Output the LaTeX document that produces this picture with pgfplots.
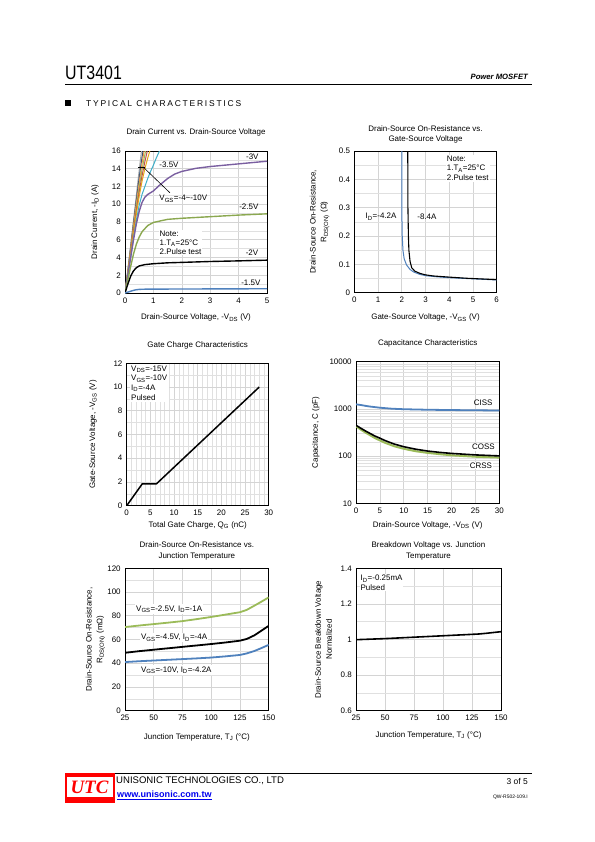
\documentclass[border=0pt]{standalone}
\usepackage{fontspec}
\setmainfont{Liberation Sans}
\newfontfamily\serifb{Liberation Serif}
\newfontfamily\spaced[LetterSpace=21]{Liberation Sans}
\usepackage{pgfplots}
\pgfplotsset{compat=1.18}
\definecolor{xblue}{HTML}{4F81BD}
\definecolor{xgreen}{HTML}{9BBB59}
\definecolor{xpurple}{HTML}{7A5FA0}
\definecolor{xorange}{HTML}{F79646}
\definecolor{xred}{HTML}{C0504D}
\definecolor{xgray}{HTML}{A5A5A5}
\definecolor{xgold}{HTML}{E6A817}
\definecolor{xcyan}{HTML}{3FAFC8}
\definecolor{xnavy}{HTML}{2C4D75}
\definecolor{linkblue}{HTML}{0000EE}
\newcommand{\sml}{\fontsize{8}{9}\selectfont}
\pgfplotsset{
  ds/.style={
    scale only axis, anchor=south west,
    axis line style={black,line width=0.9pt},
    major tick length=0pt, minor tick length=0pt,
    grid=both,
    major grid style={draw=black!17,line width=0.6pt},
    minor grid style={draw=black!12,line width=0.5pt},
    tick label style={font=\fontsize{8}{9}\selectfont},
    label style={font=\fontsize{8}{10.8}\selectfont, align=center},
    title style={font=\fontsize{8}{10.7}\selectfont, align=center, anchor=center},
    /pgf/number format/assume math mode=true,
    xticklabel style={yshift=-1pt},
    yticklabel style={xshift=-0.8pt},
    every axis plot/.append style={line join=round, no markers},
  }
}
\begin{document}
\begin{tikzpicture}
\path[use as bounding box, fill=white] (0,0) rectangle (595bp,-842bp);
% ---------- header ----------
\node[anchor=base west, inner sep=0pt, font=\fontsize{19.5}{20}\selectfont] at (65bp,-79bp) {\scalebox{0.82}[1]{UT3401}};
\node[anchor=base east, inner sep=0pt, font=\fontsize{7.7}{9}\selectfont\bfseries\itshape] at (528bp,-79bp) {Power MOSFET};
\draw[line width=0.8bp] (65bp,-84.5bp) -- (532bp,-84.5bp);
\fill (65bp,-100bp) rectangle (70.5bp,-105.5bp);
\node[anchor=base west, inner sep=0pt, font=\spaced\fontsize{8.5}{9}\selectfont] at (86bp,-106bp) {TYPICAL CHARACTERISTICS};
% ---------- footer ----------
\draw[line width=1.5bp] (65bp,-773.5bp) -- (532bp,-773.5bp);
\fill[red] (65bp,-773bp) rectangle (115bp,-803bp);
\fill[white] (67bp,-777bp) rectangle (113bp,-797bp);
\node[red, inner sep=0pt, font=\serifb\bfseries\itshape\fontsize{19}{20}\selectfont] at (89.5bp,-787.5bp) {UTC};
\node[anchor=west, inner sep=0pt, font=\fontsize{9.6}{10}\selectfont] at (116bp,-780.5bp) {UNISONIC TECHNOLOGIES CO., LTD};
\node[anchor=west, inner sep=0pt, text=linkblue, font=\fontsize{9.1}{10}\selectfont\bfseries] at (117bp,-795bp) {\underline{www.unisonic.com.tw}};
\node[anchor=east, inner sep=0pt, font=\fontsize{8.5}{9}\selectfont] at (528bp,-781bp) {3 of 5};
\node[anchor=east, inner sep=0pt, font=\fontsize{5}{6}\selectfont] at (528bp,-797bp) {QW-R502-109.I};

% ---------- Chart 1 ----------
\begin{axis}[ds, at={(125bp,-293bp)}, width=142bp, height=142bp,
  xmin=0, xmax=5, ymin=0, ymax=16,
  xtick={0,1,2,3,4,5}, ytick={0,2,...,16}, minor y tick num=1,
  title={Drain Current vs. Drain-Source Voltage},
  title style={at={(0.5,1.092)}},
  xlabel={Drain-Source Voltage, -V\textsubscript{DS} (V)},
  xlabel style={at={(axis description cs:0.5,-0.174)}, anchor=center},
  ylabel={Drain Current, -I\textsubscript{D} (A)},
  ylabel style={at={(axis description cs:-0.21,0.5)}, anchor=center},
]
\addplot[xgray, line width=1pt] coordinates {(0,0) (0.1,2.6) (0.2,5.4) (0.3,8.2) (0.4,11) (0.47,13) (0.55,15.2) (0.6,16.5)};
\addplot[xnavy, line width=1pt] coordinates {(0,0) (0.1,2.5) (0.2,5.2) (0.3,7.9) (0.4,10.5) (0.5,13) (0.6,15.3) (0.66,16.5)};
\addplot[xorange, line width=1pt] coordinates {(0,0) (0.1,2.4) (0.2,5) (0.3,7.6) (0.4,10.1) (0.5,12.4) (0.6,14.6) (0.7,16.5)};
\addplot[xgreen, line width=1pt] coordinates {(0,0) (0.1,2.3) (0.2,4.8) (0.3,7.3) (0.4,9.7) (0.5,11.9) (0.6,13.9) (0.7,15.6) (0.76,16.5)};
\addplot[xred, line width=1pt] coordinates {(0,0) (0.1,2.2) (0.2,4.6) (0.3,7) (0.4,9.3) (0.5,11.4) (0.6,13.2) (0.7,14.8) (0.82,16.5)};
\addplot[xgold, line width=1pt] coordinates {(0,0) (0.1,2.1) (0.2,4.4) (0.3,6.7) (0.4,8.9) (0.5,10.9) (0.6,12.6) (0.7,14) (0.8,15.2) (0.92,16.5)};
\addplot[xcyan, line width=1pt] coordinates {(0,0) (0.1,2) (0.2,4.1) (0.3,6.2) (0.4,8.2) (0.5,9.9) (0.6,11.1) (0.7,12) (0.8,12.9) (0.9,13.7) (1,14.4) (1.1,15.2) (1.2,15.9) (1.3,16.5)};
\addplot[xpurple, line width=1.4pt] coordinates {(0,0) (0.1,2) (0.2,4) (0.3,6) (0.4,7.8) (0.5,9.2) (0.6,10.2) (0.7,10.8) (0.8,11.1) (1,11.5) (1.2,12.1) (1.5,12.9) (1.75,13.4) (2,13.7) (2.5,14.05) (3,14.25) (4,14.55) (5,14.85)};
\addplot[xgreen!90!black, line width=1.4pt] coordinates {(0,0) (0.1,1.5) (0.2,3) (0.3,4.4) (0.4,5.5) (0.5,6.3) (0.6,6.9) (0.8,7.6) (1,7.95) (1.5,8.3) (2,8.42) (3,8.6) (4,8.78) (5,8.92)};
\addplot[black, line width=1.4pt] coordinates {(0,0) (0.1,1.0) (0.2,1.9) (0.3,2.5) (0.4,2.85) (0.5,3.05) (0.7,3.2) (1,3.3) (1.5,3.4) (2,3.45) (3,3.55) (4,3.62) (5,3.7)};
\addplot[xblue, line width=1.4pt] coordinates {(0,0) (0.1,0.1) (0.2,0.2) (0.3,0.3) (0.4,0.37) (0.5,0.41) (0.7,0.43) (1,0.44) (2,0.45) (3,0.46) (4,0.47) (5,0.48)};
\node[anchor=west, inner sep=0.5pt, font=\sml] at (axis cs:1.19,14.4) {-3.5V};
\node[anchor=west, inner sep=0.5pt, font=\sml] at (axis cs:4.24,15.3) {-3V};
\node[anchor=west, inner sep=0.5pt, font=\sml] at (axis cs:4.0,9.7) {-2.5V};
\node[anchor=west, inner sep=0.5pt, font=\sml] at (axis cs:4.23,4.5) {-2V};
\node[anchor=west, inner sep=0.5pt, font=\sml] at (axis cs:4.07,1.2) {-1.5V};
\node[anchor=west, inner sep=0.5pt, font=\sml] at (axis cs:1.19,10.6) {V\textsubscript{GS}=-4\textasciitilde-10V};
\draw[black, line width=0.6pt] (axis cs:0.67,14.1) -- (axis cs:1.58,11.3);
\draw[black, line width=1.2pt] (axis cs:0.46,14.1) -- (axis cs:0.7,14.1);
\node[anchor=west, align=left, fill=white, inner sep=1pt, font=\fontsize{8}{9}\selectfont] at (axis cs:1.18,5.7) {Note:\\1.T\textsubscript{A}=25°C\\2.Pulse test};
\end{axis}

% ---------- Chart 2 ----------
\begin{axis}[ds, at={(354.3bp,-292.7bp)}, width=142.4bp, height=141.7bp,
  xmin=0, xmax=6, ymin=0, ymax=0.5,
  xtick={0,...,6}, ytick={0,0.1,0.2,0.3,0.4,0.5}, minor y tick num=1,
  title={Drain-Source On-Resistance vs.\\Gate-Source Voltage},
  title style={at={(0.5,1.0755)}},
  xlabel={Gate-Source Voltage, -V\textsubscript{GS} (V)},
  xlabel style={at={(axis description cs:0.5,-0.176)}, anchor=center},
  ylabel={Drain-Source On-Resistance,\\R\textsubscript{DS(ON)} (Ω)},
  ylabel style={at={(axis description cs:-0.244,0.5)}, anchor=center},
  yticklabel style={/pgf/number format/fixed},
]
\addplot[xblue, line width=1pt] coordinates {(2.0,0.56) (2.0,0.3) (2.02,0.2) (2.05,0.15) (2.1,0.12) (2.2,0.098) (2.35,0.082) (2.5,0.073) (2.75,0.065) (3,0.06) (3.5,0.056) (4,0.053) (5,0.049) (6,0.045)};
\addplot[black, line width=1.1pt] coordinates {(2.25,0.56) (2.26,0.3) (2.28,0.2) (2.3,0.15) (2.35,0.11) (2.42,0.088) (2.55,0.076) (2.77,0.068) (3,0.063) (3.33,0.059) (4,0.055) (4.73,0.051) (6,0.046)};
\node[anchor=west, inner sep=0.5pt, font=\sml] at (axis cs:0.45,0.268) {I\textsubscript{D}=-4.2A};
\node[anchor=west, inner sep=0.5pt, font=\sml] at (axis cs:2.63,0.268) {-8.4A};
\node[anchor=west, align=left, fill=white, inner sep=1pt, font=\fontsize{8}{10}\selectfont] at (axis cs:3.85,0.439) {Note:\\1.T\textsubscript{A}=25°C\\2.Pulse test};
\end{axis}

% ---------- Chart 3 ----------
\begin{axis}[ds, at={(126.7bp,-505.7bp)}, width=142bp, height=142.4bp,
  xmin=0, xmax=30, ymin=0, ymax=12,
  xtick={0,5,...,30}, ytick={0,2,...,12}, minor x tick num=4, minor y tick num=1,
  title={Gate Charge Characteristics},
  title style={at={(0.5,1.086)}},
  xlabel={Total Gate Charge, Q\textsubscript{G} (nC)},
  xlabel style={at={(axis description cs:0.5,-0.136)}, anchor=center},
  ylabel={Gate-Source Voltage, -V\textsubscript{GS} (V)},
  ylabel style={at={(axis description cs:-0.237,0.5)}, anchor=center},
]
\addplot[black, line width=1.5pt] coordinates {(0,0) (3.3,1.85) (6.3,1.85) (28,10)};
\node[anchor=north west, align=left, fill=white, inner sep=1.5pt, font=\fontsize{8}{9.8}\selectfont] at (axis cs:0.6,11.95) {V\textsubscript{DS}=-15V\\V\textsubscript{GS}=-10V\\I\textsubscript{D}=-4A\\Pulsed};
\end{axis}

% ---------- Chart 4 ----------
\begin{axis}[ds, at={(356bp,-503.3bp)}, width=143.3bp, height=141.6bp,
  ymode=log, xmin=0, xmax=30, ymin=10, ymax=10000,
  xtick={0,5,...,30}, ytick={10,100,1000,10000}, yticklabels={10,100,1000,10000},
  minor ytick={20,30,40,50,60,70,80,90,200,300,400,500,600,700,800,900,2000,3000,4000,5000,6000,7000,8000,9000},
  title={Capacitance Characteristics},
  title style={at={(0.5,1.09)}},
  xlabel={Drain-Source Voltage, -V\textsubscript{DS} (V)},
  xlabel style={at={(axis description cs:0.5,-0.153)}, anchor=center},
  ylabel={Capacitance, C (pF)},
  ylabel style={at={(axis description cs:-0.28,0.5)}, anchor=center},
]
\addplot[xblue, line width=1.8pt] coordinates {(0,1250) (1,1210) (2,1160) (3,1120) (5,1060) (7.5,1010) (10,985) (15,960) (20,945) (25,935) (30,925)};
\addplot[xgreen, line width=2pt] coordinates {(0,430) (1,365) (2,315) (3,275) (4,240) (5,215) (6,193) (8,162) (10,143) (12.5,127) (15,117) (17.5,110) (20,104) (25,97) (30,93)};
\addplot[black, line width=1.6pt] coordinates {(0,450) (1,390) (2,340) (3,300) (4,265) (5,240) (6,215) (8,180) (10,158) (12.5,140) (15,128) (17.5,120) (20,114) (25,106) (30,101)};
\node[anchor=east, inner sep=0.5pt, font=\sml] at (axis cs:28.7,1350) {CISS};
\node[anchor=east, fill=white, inner sep=1pt, font=\sml] at (axis cs:29.3,158) {COSS};
\node[anchor=east, fill=white, inner sep=1pt, font=\sml] at (axis cs:28.7,63) {CRSS};
\end{axis}

% ---------- Chart 5 ----------
\begin{axis}[ds, at={(125bp,-710.7bp)}, width=143.7bp, height=142.4bp,
  xmin=25, xmax=150, ymin=0, ymax=120,
  xtick={25,50,...,150}, ytick={0,20,...,120}, minor y tick num=1,
  title={Drain-Source On-Resistance vs.\\Junction Temperature},
  title style={at={(0.5,1.079)}},
  xlabel={Junction Temperature, T\textsubscript{J} (°C)},
  xlabel style={at={(axis description cs:0.5,-0.185)}, anchor=center},
  ylabel={Drain-Source On-Resistance,\\R\textsubscript{DS(ON)} (mΩ)},
  ylabel style={at={(axis description cs:-0.205,0.5)}, anchor=center},
]
\addplot[xgreen, line width=1.8pt] coordinates {(25,70.5) (37.5,71.8) (50,73) (62.5,74.2) (75,75.5) (87.5,77.2) (100,79) (112.5,81) (125,83) (131,85) (137.5,88.5) (143,91.5) (150,95.5)};
\addplot[black, line width=1.8pt] coordinates {(25,48.8) (37.5,50.2) (50,51.4) (62.5,52.6) (75,53.8) (87.5,55) (100,56.2) (112.5,57.5) (125,59) (131,60.5) (137.5,63.5) (143,67) (150,71.5)};
\addplot[xblue, line width=1.8pt] coordinates {(25,41) (37.5,41.7) (50,42.3) (62.5,42.9) (75,43.5) (87.5,44.1) (100,44.8) (112.5,45.8) (125,47) (131,48.3) (137.5,50.3) (143,52.5) (150,55.5)};
\node[anchor=west, fill=white, inner sep=1pt, font=\sml] at (axis cs:33.7,85.7) {V\textsubscript{GS}=-2.5V, I\textsubscript{D}=-1A};
\node[anchor=west, fill=white, inner sep=1pt, font=\sml] at (axis cs:38,61.5) {V\textsubscript{GS}=-4.5V, I\textsubscript{D}=-4A};
\node[anchor=west, fill=white, inner sep=1pt, font=\sml] at (axis cs:38,34.3) {V\textsubscript{GS}=-10V, I\textsubscript{D}=-4.2A};
\end{axis}

% ---------- Chart 6 ----------
\begin{axis}[ds, at={(356bp,-710.7bp)}, width=145bp, height=142.4bp,
  xmin=25, xmax=150, ymin=0.6, ymax=1.4,
  xtick={25,50,...,150}, ytick={0.6,0.8,1,1.2,1.4}, minor y tick num=1,
  title={Breakdown Voltage vs. Junction\\Temperature},
  title style={at={(0.5,1.079)}},
  xlabel={Junction Temperature, T\textsubscript{J} (°C)},
  xlabel style={at={(axis description cs:0.5,-0.171)}, anchor=center},
  ylabel={Drain-Source Breakdown Voltage\\Normalized},
  ylabel style={at={(axis description cs:-0.224,0.5)}, anchor=center},
]
\addplot[black, line width=1.6pt] coordinates {(25,0.999) (37.5,1.002) (50,1.005) (62.5,1.009) (75,1.013) (87.5,1.017) (100,1.021) (112.5,1.025) (125,1.029) (131,1.031) (137.5,1.035) (143,1.039) (150,1.044)};
\node[anchor=west, align=left, fill=white, inner sep=1pt, font=\fontsize{8}{9.5}\selectfont] at (axis cs:28,1.318) {I\textsubscript{D}=-0.25mA\\Pulsed};
\end{axis}
\end{tikzpicture}
\end{document}
